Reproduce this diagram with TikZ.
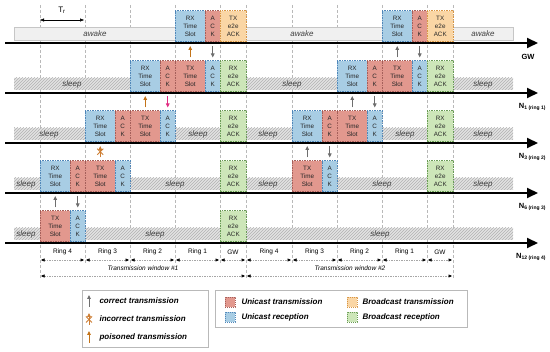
\documentclass[tikz,border=0pt]{standalone}
\usepackage{fontspec}
\setmainfont{Liberation Sans}
\usetikzlibrary{arrows.meta,patterns,calc}
\definecolor{rxfill}{RGB}{168,205,228}
\definecolor{rxdraw}{RGB}{80,135,185}
\definecolor{txfill}{RGB}{226,152,142}
\definecolor{txdraw}{RGB}{165,95,90}
\definecolor{orfill}{RGB}{250,214,165}
\definecolor{ordraw}{RGB}{215,150,70}
\definecolor{grfill}{RGB}{205,230,185}
\definecolor{grdraw}{RGB}{105,155,85}
\definecolor{corrc}{RGB}{110,110,110}
\definecolor{poisc}{RGB}{195,115,25}
\definecolor{pinkc}{RGB}{225,45,130}
\definecolor{xc}{RGB}{205,125,50}
\begin{document}
\begin{tikzpicture}[x=1pt,y=-1pt,
  slotbase/.style={draw, dash pattern=on 1.5pt off 1pt, line width=0.5pt, anchor=south west,
    inner sep=0pt, align=center, font=\fontsize{6.3}{8.3}\selectfont, text=black!85, minimum height=31pt},
  rx/.style={slotbase, fill=rxfill, draw=rxdraw, minimum width=30pt},
  tx/.style={slotbase, fill=txfill, draw=txdraw, minimum width=30pt},
  ackt/.style={slotbase, fill=txfill, draw=txdraw, minimum width=15pt},
  ackr/.style={slotbase, fill=rxfill, draw=rxdraw, minimum width=15pt},
  btx/.style={slotbase, fill=orfill, draw=ordraw, minimum width=26pt},
  brx/.style={slotbase, fill=grfill, draw=grdraw, minimum width=26pt},
  axisline/.style={line width=2pt, -{Triangle[length=11pt,width=10pt]}},
  awakebar/.style={fill=gray!12, draw=gray!45, line width=0.4pt},
  sleepbar/.style={fill=gray!22},
  hatch/.style={pattern=north east lines, pattern color=gray!60},
  barlabel/.style={font=\fontsize{8}{9}\selectfont\itshape, text=black!75},
  corr/.style={corrc, line width=0.9pt, -{Triangle[length=4pt,width=3.5pt]}, shorten <=3pt, shorten >=3pt},
  pois/.style={corr, poisc},
  pinkarr/.style={corr, pinkc},
  vline/.style={gray!55, line width=0.5pt, dash pattern=on 3pt off 2pt},
  seg/.style={gray!70, line width=0.5pt, dash pattern=on 1.5pt off 1pt,
    {Triangle[length=3.5pt,width=3pt,black]}-{Triangle[length=3.5pt,width=3pt,black]}},
  ringlbl/.style={font=\fontsize{6.5}{7}\selectfont},
  axlbl/.style={font=\fontsize{7.5}{8}\selectfont\bfseries, anchor=east},
  leg/.style={font=\fontsize{8}{9}\selectfont\bfseries\itshape, anchor=west},
  legsq/.style={draw, dash pattern=on 1.2pt off 0.8pt, line width=0.5pt, minimum width=10pt, minimum height=10pt, inner sep=0pt}
]
\useasboundingbox (0,0) rectangle (550,352);

% vertical dashed guide lines
\foreach \x in {85,130,175,220,292,337,382,427} \draw[vline] (\x,5) -- (\x,263);
\foreach \x in {40,246,453} \draw[vline] (\x,5) -- (\x,279);

% T_r
\node[font=\fontsize{8}{9}\selectfont] (tr) at (62,10) {T\textsubscript{r}};
\coordinate (tra) at (40,20); \coordinate (trb) at (84,20);
\draw[line width=0.5pt, {Triangle[length=4pt,width=3pt]}-{Triangle[length=4pt,width=3pt]}] (tra) -- (trb);

% axis reference coordinates
\coordinate (axGW) at (5,43);  \coordinate (axGWe) at (538,43);
\coordinate (axNa) at (5,93);  \coordinate (axNae) at (538,93);
\coordinate (axNb) at (5,143); \coordinate (axNbe) at (538,143);
\coordinate (axNc) at (5,193); \coordinate (axNce) at (538,193);
\coordinate (axNd) at (5,243); \coordinate (axNde) at (538,243);

% bars
\draw[awakebar] (14,27) rectangle (513,40);
\foreach \a in {93,143,193,243} {
  \fill[sleepbar] (14,\a-15) rectangle (513,\a-3);
  \fill[hatch] (14,\a-15) rectangle (513,\a-3);
}

% bar labels
\node[barlabel] (aw1) at (95,34) {awake};
\node[barlabel] (aw2) at (302,34) {awake};
\node[barlabel] (aw3) at (483,34) {awake};
\foreach \x/\a in {72/93,292/93,483/93, 49/143,198/143,268/143,405/143,483/143,
  26/193,175/193,268/193,382/193,483/193, 26/243,155/243,380/243}
  \node[barlabel] at (\x,\a-9) {sleep};

% GW row
\node[rx]   (gwrxA)  at (175,42) {RX\\Time\\Slot};
\node[ackt] (gwackA) at (205,42) {A\\C\\K};
\node[btx]  (gwbtxA) at (220,42) {TX\\e2e\\ACK};
\node[rx]   (gwrxB)  at (382,42) {RX\\Time\\Slot};
\node[ackt] (gwackB) at (412,42) {A\\C\\K};
\node[btx]  (gwbtxB) at (427,42) {TX\\e2e\\ACK};

% N1 row
\node[rx]   (narxA)  at (130,92) {RX\\Time\\Slot};
\node[ackt] (naatA)  at (160,92) {A\\C\\K};
\node[tx]   (natxA)  at (175,92) {TX\\Time\\Slot};
\node[ackr] (naarA)  at (205,92) {A\\C\\K};
\node[brx]  (nabrA)  at (220,92) {RX\\e2e\\ACK};
\node[rx]   (narxB)  at (337,92) {RX\\Time\\Slot};
\node[ackt] (naatB)  at (367,92) {A\\C\\K};
\node[tx]   (natxB)  at (382,92) {TX\\Time\\Slot};
\node[ackr] (naarB)  at (412,92) {A\\C\\K};
\node[brx]  (nabrB)  at (427,92) {RX\\e2e\\ACK};

% N3 row
\node[rx]   (nbrxA)  at (85,142) {RX\\Time\\Slot};
\node[ackt] (nbatA)  at (115,142) {A\\C\\K};
\node[tx]   (nbtxA)  at (130,142) {TX\\Time\\Slot};
\node[ackr] (nbarA)  at (160,142) {A\\C\\K};
\node[brx]  (nbbrA)  at (220,142) {RX\\e2e\\ACK};
\node[rx]   (nbrxB)  at (292,142) {RX\\Time\\Slot};
\node[ackt] (nbatB)  at (322,142) {A\\C\\K};
\node[tx]   (nbtxB)  at (337,142) {TX\\Time\\Slot};
\node[ackr] (nbarB)  at (367,142) {A\\C\\K};
\node[brx]  (nbbrB)  at (427,142) {RX\\e2e\\ACK};

% N6 row
\node[rx]   (ncrxA)  at (40,192) {RX\\Time\\Slot};
\node[ackt] (ncatA)  at (70,192) {A\\C\\K};
\node[tx]   (nctxA)  at (85,192) {TX\\Time\\Slot};
\node[ackr] (ncarA)  at (115,192) {A\\C\\K};
\node[brx]  (ncbrA)  at (220,192) {RX\\e2e\\ACK};
\node[tx]   (nctxB)  at (292,192) {TX\\Time\\Slot};
\node[ackr] (ncarB)  at (322,192) {A\\C\\K};
\node[brx]  (ncbrB)  at (427,192) {RX\\e2e\\ACK};

% N12 row
\node[tx]   (ndtxA)  at (40,242) {TX\\Time\\Slot};
\node[ackr] (ndarA)  at (70,242) {A\\C\\K};
\node[brx]  (ndbrA)  at (220,242) {RX\\e2e\\ACK};

% axes
\draw[axisline] (axGW) -- (axGWe);
\draw[axisline] (axNa) -- (axNae);
\draw[axisline] (axNb) -- (axNbe);
\draw[axisline] (axNc) -- (axNce);
\draw[axisline] (axNd) -- (axNde);

% axis labels
\node[axlbl] (lgw) at (538,57) {GW};
\node[axlbl] (lna) at (549,107) {N\raisebox{-1.5pt}{\fontsize{5}{5}\selectfont 1 (ring 1)}};
\node[axlbl] (lnb) at (549,157) {N\raisebox{-1.5pt}{\fontsize{5}{5}\selectfont 3 (ring 2)}};
\node[axlbl] (lnc) at (549,207) {N\raisebox{-1.5pt}{\fontsize{5}{5}\selectfont 6 (ring 3)}};
\node[axlbl] (lnd) at (549,257) {N\raisebox{-1.5pt}{\fontsize{5}{5}\selectfont 12 (ring 4)}};

% transmissions GW <-> N1
\draw[pois] (natxA.north) -- (natxA.north |- axGW);
\draw[corr] (naarA.north |- axGW) -- (naarA.north);
\draw[corr] (natxB.north) -- (natxB.north |- axGW);
\draw[corr] (naarB.north |- axGW) -- (naarB.north);
% N1 <-> N3
\draw[pois] (nbtxA.north) -- (nbtxA.north |- axNa);
\draw[pinkarr] (nbarA.north |- axNa) -- (nbarA.north);
\draw[corr] (nbtxB.north) -- (nbtxB.north |- axNa);
\draw[corr] (nbarB.north |- axNa) -- (nbarB.north);
% N3 <-> N6 (incorrect)
\coordinate (xmk) at ($(nctxA.north)!0.5!(nctxA.north |- axNb)$);
\draw[xc, line width=0.9pt, -{Triangle[length=4pt,width=3.5pt]}, shorten <=3pt, shorten >=3pt] (nctxA.north) -- (nctxA.north |- axNb);
\draw[xc, line width=0.9pt] ($(xmk)+(-3,-3)$) -- ($(xmk)+(3,3)$);
\draw[xc, line width=0.9pt] ($(xmk)+(-3,3)$) -- ($(xmk)+(3,-3)$);
\draw[corr] (nctxB.north) -- (nctxB.north |- axNb);
\draw[corr] (ncarB.north |- axNb) -- (ncarB.north);
% N6 <-> N12
\draw[corr] (ndtxA.north) -- (ndtxA.north |- axNc);
\draw[corr] (ndarA.north |- axNc) -- (ndarA.north);

% ring segments
\foreach \i/\x in {0/40,1/85,2/130,3/175,4/220,5/246,6/292,7/337,8/382,9/427,10/453}
  \coordinate (t\i) at (\x,260);
\foreach \i/\j/\t in {0/1/Ring 4,1/2/Ring 3,2/3/Ring 2,3/4/Ring 1,4/5/GW,
                      5/6/Ring 4,6/7/Ring 3,7/8/Ring 2,8/9/Ring 1,9/10/GW} {
  \draw[seg] ($(t\i)+(1,0)$) -- ($(t\j)+(-1,0)$);
  \node[ringlbl] at ($(t\i)!0.5!(t\j)+(0,-8)$) {\t};
}
\coordinate (wa) at (40,276); \coordinate (wb) at (246,276); \coordinate (wc) at (453,276);
\draw[seg] ($(wa)+(1,0)$) -- ($(wb)+(-1,0)$);
\draw[seg] ($(wb)+(1,0)$) -- ($(wc)+(-1,0)$);
\node[ringlbl, font=\fontsize{6.5}{7}\selectfont\itshape] (tw1) at (143,268) {Transmission window \#1};
\node[ringlbl, font=\fontsize{6.5}{7}\selectfont\itshape] (tw2) at (350,268) {Transmission window \#2};

% legend 1
\draw[gray!55, line width=0.6pt, fill=white] (82,290) rectangle (208,347);
\coordinate (l1a) at (89,307); \coordinate (l1b) at (89,295);
\draw[corrc, line width=0.9pt, -{Triangle[length=4pt,width=3.5pt]}] (l1a) -- (l1b);
\node[leg] (lt1) at (96,301) {correct transmission};
\coordinate (l2a) at (89,325); \coordinate (l2b) at (89,313); \coordinate (l2m) at (89,319.5);
\draw[xc, line width=0.9pt, -{Triangle[length=4pt,width=3.5pt]}] (l2a) -- (l2b);
\draw[xc, line width=0.9pt] ($(l2m)+(-3,-3)$) -- ($(l2m)+(3,3)$);
\draw[xc, line width=0.9pt] ($(l2m)+(-3,3)$) -- ($(l2m)+(3,-3)$);
\node[leg] (lt2) at (96,319) {incorrect transmission};
\coordinate (l3a) at (89,343); \coordinate (l3b) at (89,331);
\draw[poisc, line width=0.9pt, -{Triangle[length=4pt,width=3.5pt]}] (l3a) -- (l3b);
\node[leg] (lt3) at (96,337) {poisoned transmission};

% legend 2
\draw[gray!55, line width=0.6pt, fill=white] (215,290) rectangle (467,327);
\node[legsq, fill=txfill, draw=txdraw] (sq1) at (230,302) {};
\node[leg] (st1) at (238,302) {Unicast transmission};
\node[legsq, fill=rxfill, draw=rxdraw] (sq2) at (230,317) {};
\node[leg] (st2) at (238,317) {Unicast reception};
\node[legsq, fill=orfill, draw=ordraw] (sq3) at (352,302) {};
\node[leg] (st3) at (359,302) {Broadcast transmission};
\node[legsq, fill=grfill, draw=grdraw] (sq4) at (352,317) {};
\node[leg] (st4) at (359,317) {Broadcast reception};
\end{tikzpicture}
\end{document}
